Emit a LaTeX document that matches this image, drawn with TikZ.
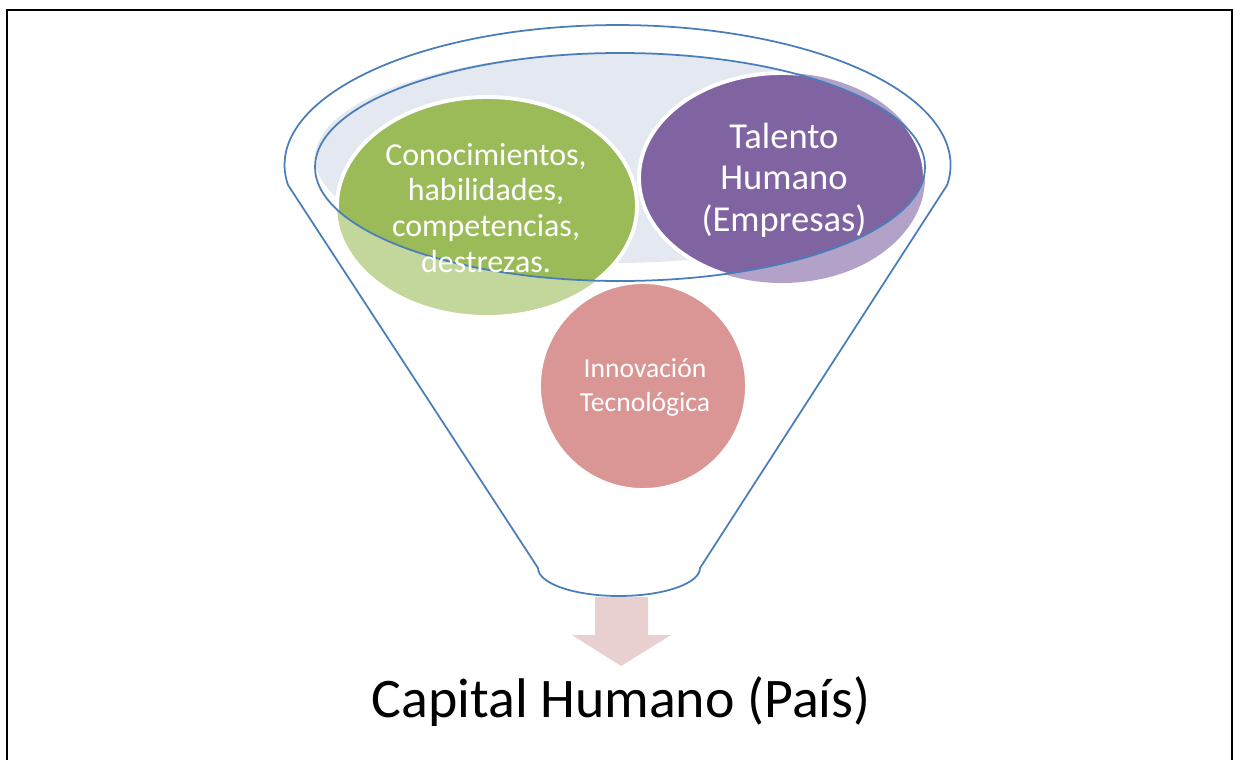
\documentclass[tikz,border=0pt]{standalone}
\usepackage{fontspec}
\setmainfont{Carlito}
\usepackage{tikz}
\usetikzlibrary{positioning}

\definecolor{funnelblue}{HTML}{4A7EBB}
\definecolor{topfill}{HTML}{E3E8F1}
\definecolor{greendark}{HTML}{9BBB59}
\definecolor{greenlight}{HTML}{C3D69B}
\definecolor{purpledark}{HTML}{8064A2}
\definecolor{purplelight}{HTML}{B2A2C7}
\definecolor{pinkdark}{HTML}{D99694}
\definecolor{arrowpink}{HTML}{E8D0D0}

\tikzset{
  funnel/.style={draw=funnelblue, line width=1pt},
  ring/.style={draw=white, line width=2.2pt},
  intext/.style={text=white, align=center, inner sep=0pt},
}

\begin{document}
\begin{tikzpicture}[x=0.02cm, y=-0.02cm]
  			\useasboundingbox (0,0) rectangle (1233,760);

  			% Frame
  			\draw[line width=1.2pt] (7,760) -- (7,10) -- (1232,10) -- (1232,760);

  			% Mouth of the funnel
  			\fill[topfill] (615,158) ellipse[x radius=300, y radius=105];

  			% Circles (pale outside the mouth, strong inside it)
  			\fill[greenlight] (487,206) ellipse[x radius=150, y radius=109];
  			\fill[purplelight] (782,178) ellipse[x radius=143, y radius=105];
  			\begin{scope}
  			  \clip (620,167) ellipse[x radius=305, y radius=114];
  			  \fill[greendark] (487,206) ellipse[x radius=150, y radius=109];
  			  \fill[purpledark] (782,178) ellipse[x radius=143, y radius=105];
  			  \draw[ring] (487,206) ellipse[x radius=150, y radius=109];
  			  \draw[ring] (782,178) ellipse[x radius=143, y radius=105];
  			\end{scope}
  			\filldraw[ring, fill=pinkdark] (643,386) circle[radius=104];

  			% Funnel outline
  			\draw[funnel] (620,167) ellipse[x radius=305, y radius=114];
  			\draw[funnel] (288,185)
  			  arc[start angle=171.8, end angle=368.2, x radius=333, y radius=140]
  			  -- (700,568)
  			  arc[start angle=0, end angle=180, x radius=81, y radius=28]
  			  -- cycle;

  			% Define nodes
  			\node[intext, font=\fontsize{18.2}{20.4}\selectfont] (skills) at (486,208)
  			  {Conocimientos,\\habilidades,\\competencias,\\destrezas.};
  			\node[intext, font=\fontsize{20.8}{23.5}\selectfont] (talent) at (784,180)
  			  {Talento\\Humano\\(Empresas)};
  			\node[intext, font=\fontsize{15.7}{19.3}\selectfont] (innov) at (645,387)
  			  {Innovación\\Tecnológica};
  			\node[inner sep=0pt, font=\fontsize{31.8}{36}\selectfont] (capital) at (621,702)
  			  {Capital Humano (País)};

  			% Connect the funnel to the result
  			\coordinate (neck) at (621,597);
  			\fill[arrowpink] (neck) ++(-26,0) -- ++(53,0) -- ++(0,38) -- ++(23,0)
  			  -- ++(-50,31) -- ++(-49,-31) -- ++(23,0) -- cycle;
		\end{tikzpicture}
\end{document}
